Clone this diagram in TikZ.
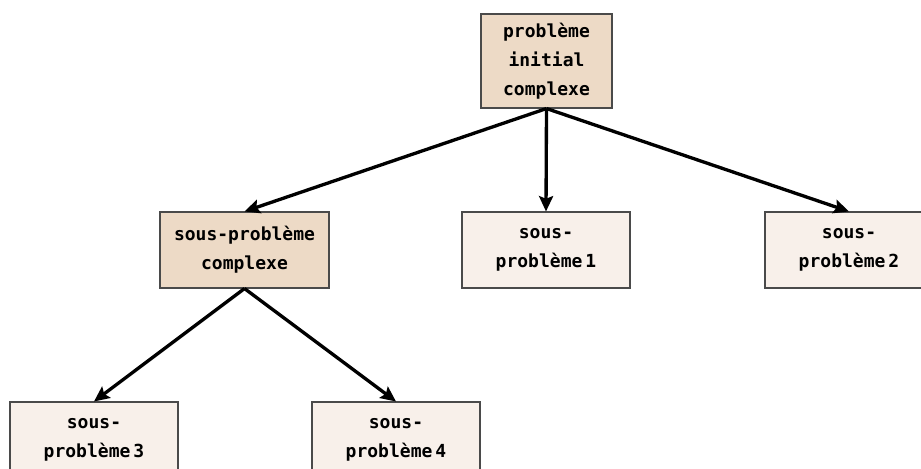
\documentclass[tikz,border=0pt]{standalone}
\usepackage{fontspec}
\setmonofont{DejaVu Sans Mono}
\usetikzlibrary{arrows.meta}
\definecolor{complexfill}{HTML}{EDDAC6}
\definecolor{simplefill}{HTML}{F8F0EA}
\definecolor{boxline}{HTML}{4A4A4A}
\begin{document}
\begin{tikzpicture}[x=0.75pt,y=-0.75pt,
    box/.style={draw=boxline,line width=0.8pt,align=center,inner sep=0pt,
      font=\fontsize{13.5}{21.75}\selectfont\ttfamily\bfseries},
    cbox/.style={box,fill=complexfill},
    sbox/.style={box,fill=simplefill,minimum width=126pt,minimum height=57pt},
    link/.style={-{Stealth[length=11.5pt,width=10.5pt,inset=2pt]},line width=2.5pt}]
    \useasboundingbox (0,0) rectangle (921,468);
    \node[cbox,minimum width=98.25pt,minimum height=70.5pt] (top) at (546.5,61) {problème\\initial\\complexe};
    \node[cbox,minimum width=126.75pt,minimum height=57pt] (cplx) at (244.5,250) {sous-problème\\complexe};
    \node[sbox] (sp1) at (546,250) {sous-\\problème\,1};
    \node[sbox] (sp2) at (849,250) {sous-\\problème\,2};
    \node[sbox] (sp3) at (94,440) {sous-\\problème\,3};
    \node[sbox] (sp4) at (396,440) {sous-\\problème\,4};
    \draw[link] (top.south) -- (cplx.north);
    \draw[link] (top.south) -- (sp1.north);
    \draw[link] (top.south) -- (sp2.north);
    \draw[link] (cplx.south) -- (sp3.north);
    \draw[link] (cplx.south) -- (sp4.north);
\end{tikzpicture}
\end{document}
